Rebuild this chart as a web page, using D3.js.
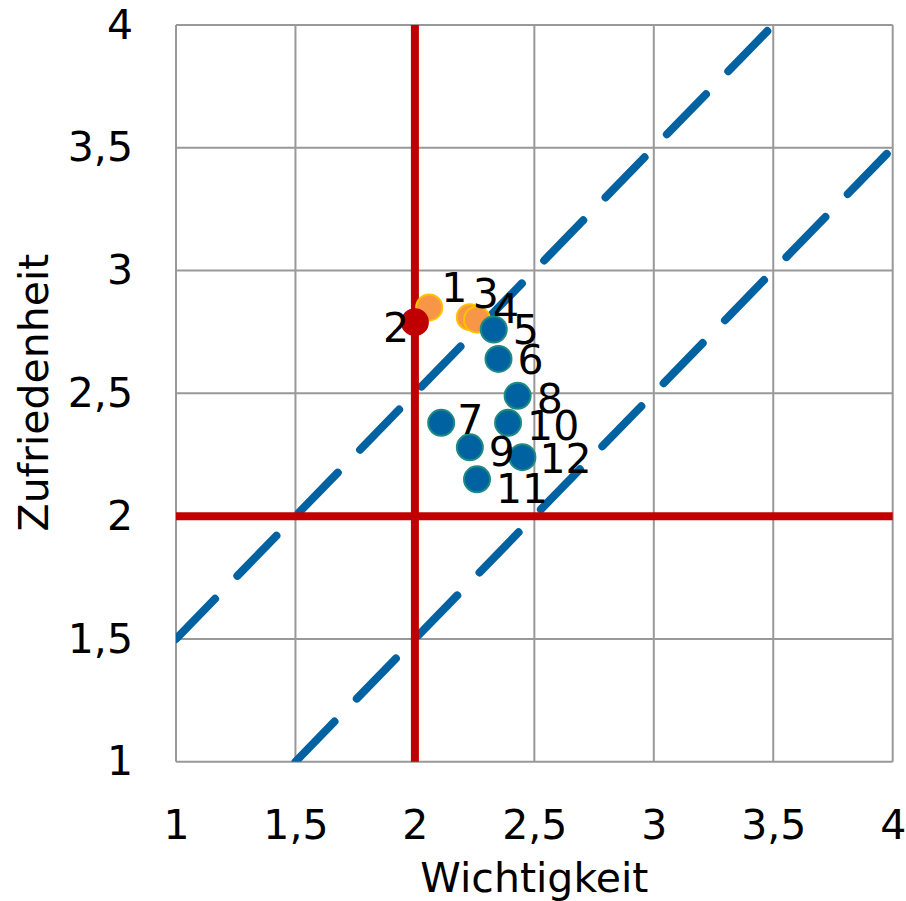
<!DOCTYPE html>
<html>
<head>
<meta charset="utf-8">
<script src="https://cdn.jsdelivr.net/npm/d3@7"></script>
<style>
  html, body { margin: 0; padding: 0; background: #fff; }
  svg { display: block; font-family: "DejaVu Sans", Verdana, sans-serif; }
</style>
</head>
<body>
<svg id="chart" width="906" height="901"></svg>
<script>
// ---- data ----
const labels      = ["1","2","3","4","5","6","7","8","9","10","11","12"];
const wichtigkeit = [2.06, 2.00, 2.23, 2.26, 2.33, 2.35, 2.11, 2.43, 2.23, 2.39, 2.26, 2.45];
const zufriedenheit = [2.85, 2.79, 2.81, 2.80, 2.76, 2.64, 2.38, 2.49, 2.28, 2.38, 2.15, 2.24];
const groups      = ["orange","red","orange","orange","blue","blue","blue","blue","blue","blue","blue","blue"];
const xTicks = [1, 1.5, 2, 2.5, 3, 3.5, 4];
const yTicks = [1, 1.5, 2, 2.5, 3, 3.5, 4];
const refX = 2, refY = 2;
const diagLines = [ [[1, 1.5], [3.5, 4]], [[1.5, 1], [4, 3.5]] ];

// ---- layout / style (not data) ----
const W = 906, H = 901;
const plot = { left: 176, right: 892.7, top: 25, bottom: 761.7 };
const styles = {
  orange: { fill: "#F79646", stroke: "#FFC000" },
  red:    { fill: "#C00000", stroke: "#C00000" },
  blue:   { fill: "#0062A0", stroke: "#1E8A80" }
};
// label offsets (dx, dy) relative to point centre
const labelOffsets = [
  [12, -20], [-32, 5], [3, -24], [16, -11], [19, 0], [19, 0],
  [16, -4], [19, 2], [19, 4], [19, 2], [19, 9], [17, 1]
];

const svg = d3.select("#chart");
const x = d3.scaleLinear().domain([1, 4]).range([plot.left, plot.right]);
const y = d3.scaleLinear().domain([1, 4]).range([plot.bottom, plot.top]);
const fs = 41;

// gridlines
const grid = svg.append("g");
grid.selectAll("line.v").data(xTicks).join("line")
  .attr("x1", d => x(d)).attr("x2", d => x(d))
  .attr("y1", plot.top).attr("y2", plot.bottom)
  .attr("stroke", "#999").attr("stroke-width", 2);
grid.selectAll("line.h").data(yTicks).join("line")
  .attr("y1", d => y(d)).attr("y2", d => y(d))
  .attr("x1", plot.left).attr("x2", plot.right)
  .attr("stroke", "#999").attr("stroke-width", 2);

// axes (labels only)
const fmt = d => String(d).replace(".", ",");
const xAxis = svg.append("g").attr("transform", `translate(0,${plot.bottom})`)
  .call(d3.axisBottom(x).tickValues(xTicks).tickFormat(fmt).tickSize(0).tickPadding(48));
const yAxis = svg.append("g").attr("transform", `translate(${plot.left},0)`)
  .call(d3.axisLeft(y).tickValues(yTicks).tickFormat(fmt).tickSize(0).tickPadding(43));
[xAxis, yAxis].forEach(a => {
  a.select(".domain").remove();
  a.selectAll("text").attr("font-size", fs).attr("fill", "#000")
    .attr("font-family", "DejaVu Sans, Verdana, sans-serif");
});
xAxis.selectAll("text").attr("dy", "0.71em");

// clip
svg.append("clipPath").attr("id", "clip").append("rect")
  .attr("x", plot.left).attr("y", plot.top)
  .attr("width", plot.right - plot.left).attr("height", plot.bottom - plot.top);

// diagonal dashed lines
const line = d3.line().x(d => x(d[0])).y(d => y(d[1]));
svg.append("g").attr("clip-path", "url(#clip)").selectAll("path").data(diagLines).join("path")
  .attr("d", line)
  .attr("fill", "none").attr("stroke", "#0062A0").attr("stroke-width", 8)
  .attr("stroke-linecap", "round").attr("stroke-dasharray", "56,32")
  .attr("stroke-dashoffset", 0);

// reference lines
svg.append("line").attr("x1", x(refX)).attr("x2", x(refX))
  .attr("y1", plot.top).attr("y2", plot.bottom)
  .attr("stroke", "#C00000").attr("stroke-width", 8);
svg.append("line").attr("y1", y(refY)).attr("y2", y(refY))
  .attr("x1", plot.left).attr("x2", plot.right)
  .attr("stroke", "#C00000").attr("stroke-width", 8);

// points
const pts = labels.map((l, i) => ({ l, x: wichtigkeit[i], y: zufriedenheit[i], g: groups[i], off: labelOffsets[i] }));
svg.append("g").selectAll("circle").data(pts).join("circle")
  .attr("cx", d => x(d.x)).attr("cy", d => y(d.y)).attr("r", 13)
  .attr("fill", d => styles[d.g].fill).attr("stroke", d => styles[d.g].stroke)
  .attr("stroke-width", 2);

// labels
svg.append("g").selectAll("text").data(pts).join("text")
  .attr("x", d => x(d.x) + d.off[0]).attr("y", d => y(d.y) + d.off[1])
  .attr("dy", "0.36em")
  .attr("font-size", fs).attr("fill", "#000")
  .text(d => d.l);

// axis titles
svg.append("text").attr("x", (plot.left + plot.right) / 2).attr("y", 891.5)
  .attr("text-anchor", "middle").attr("font-size", fs).text("Wichtigkeit");
svg.append("text").attr("transform", "translate(48.3,392.5) rotate(-90)")
  .attr("text-anchor", "middle").attr("font-size", fs).text("Zufriedenheit");
</script>
</body>
</html>
